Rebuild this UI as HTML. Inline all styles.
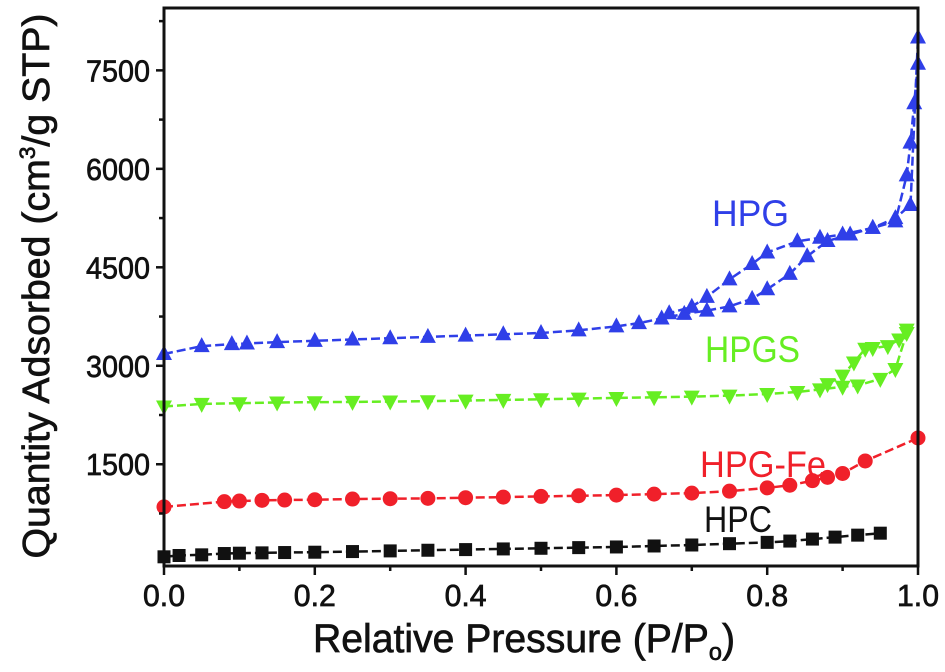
<!DOCTYPE html>
<html><head><meta charset="utf-8"><style>
html,body{margin:0;padding:0;background:#fff;}
svg{display:block;font-family:"Liberation Sans",Arial,sans-serif;}
.t{stroke:#111;stroke-width:0.7;}
</style></head><body>
<div style="position:relative;width:945px;height:672px;">
<svg id="chart" width="945" height="672" viewBox="0 0 945 672" style="position:absolute;left:0;top:0">
<g id="marks"></g>
<g id="axes"></g>
</svg>
<svg style="position:absolute;left:0;top:0" width="945" height="672">
<text x="313" y="652" font-size="40" fill="#111" class="t" textLength="422" lengthAdjust="spacingAndGlyphs">Relative Pressure (P/P<tspan font-size="24" dy="8">o</tspan><tspan dy="-8">)</tspan></text>
<text transform="translate(49,286) rotate(-90)" text-anchor="middle" font-size="38" fill="#111" class="t" textLength="545" lengthAdjust="spacingAndGlyphs">Quantity Adsorbed (cm<tspan font-size="22" dy="-14">3</tspan><tspan dy="14">/g  STP)</tspan></text>
<text x="712" y="226" font-size="37" fill="#2f3fe8" textLength="77" lengthAdjust="spacingAndGlyphs">HPG</text>
<text x="705" y="362" font-size="37" fill="#66ee22" textLength="95" lengthAdjust="spacingAndGlyphs">HPGS</text>
<text x="700" y="477" font-size="37" fill="#f0202a" textLength="126" lengthAdjust="spacingAndGlyphs">HPG-Fe</text>
<text x="704" y="532" font-size="37" fill="#111" textLength="68" lengthAdjust="spacingAndGlyphs">HPC</text>
</svg>
</div>
<script>
const xTicks=[0,0.2,0.4,0.6,0.8,1.0];
const xTickLabels=["0.0","0.2","0.4","0.6","0.8","1.0"];
const yTicks=[1500,3000,4500,6000,7500];
const yTickLabels=["1500","3000","4500","6000","7500"];

const hpgAdsX=[0,0.05,0.09,0.11,0.15,0.2,0.25,0.3,0.35,0.4,0.45,0.5,0.55,0.6,0.63,0.66,0.69,0.72,0.75,0.78,0.8,0.83,0.853,0.88,0.91,0.94,0.97,0.99,1.0];
const hpgAdsY=[3180,3300,3330,3340,3360,3380,3400,3420,3440,3460,3480,3500,3540,3600,3650,3720,3790,3840,3905,4020,4165,4400,4668,4900,5000,5100,5250,5450,8000];
const hpgDesX=[1.0,0.995,0.99,0.985,0.97,0.94,0.9,0.87,0.84,0.8,0.78,0.75,0.72,0.7,0.67];
const hpgDesY=[7600,7000,6400,5900,5200,5100,5000,4950,4896,4725,4550,4316,4050,3900,3800];

const hpgsAdsX=[0,0.05,0.1,0.15,0.2,0.25,0.3,0.35,0.4,0.45,0.5,0.55,0.6,0.65,0.7,0.75,0.8,0.84,0.87,0.9,0.92,0.95,0.97,0.985];
const hpgsAdsY=[2380,2420,2430,2440,2445,2450,2455,2460,2470,2480,2490,2500,2510,2520,2530,2545,2570,2600,2640,2680,2700,2800,2950,3500];
const hpgsDesX=[0.985,0.975,0.96,0.94,0.93,0.915,0.9,0.88];
const hpgsDesY=[3550,3400,3300,3270,3260,3050,2850,2720];

const hpgFeX=[0,0.08,0.1,0.13,0.16,0.2,0.25,0.3,0.35,0.4,0.45,0.5,0.55,0.6,0.65,0.7,0.75,0.8,0.83,0.86,0.88,0.9,0.93,1.0];
const hpgFeY=[850,930,940,950,955,960,970,975,980,990,1000,1010,1020,1030,1045,1060,1090,1140,1180,1250,1300,1360,1550,1900];

const hpcX=[0,0.02,0.05,0.08,0.1,0.13,0.16,0.2,0.25,0.3,0.35,0.4,0.45,0.5,0.55,0.6,0.65,0.7,0.75,0.8,0.83,0.86,0.89,0.92,0.95];
const hpcY=[90,110,120,140,145,150,155,160,170,180,190,200,210,220,230,240,255,270,290,310,330,360,390,420,450];

const X0=164,X1=918,Y0=566,Y1=8;
const YMIN=-50,YMAX=8450;
function sx(v){return X0+(v-0)/(1-0)*(X1-X0);}
function sy(v){return Y0-(v-YMIN)/(YMAX-YMIN)*(Y0-Y1);}
const NS="http://www.w3.org/2000/svg";
const marks=document.getElementById('marks');
const axes=document.getElementById('axes');
function mk(tag,attrs,parent){const e=document.createElementNS(NS,tag);for(const k in attrs)e.setAttribute(k,attrs[k]);parent.appendChild(e);return e;}

function series(xs,ys,color,shape,name){
  const g=mk('g',{},marks);
  
  
  const pts=xs.map((x,i)=>sx(x).toFixed(1)+','+sy(ys[i]).toFixed(1)).join(' ');
  const pl=mk('polyline',{points:pts,fill:'none',stroke:color,'stroke-width':2.5,'stroke-dasharray':'9,4'},g);
  
  
  xs.forEach((x,i)=>{
    const cx=sx(x),cy=sy(ys[i]);let m;
    if(shape==='circle')m=mk('circle',{cx:cx,cy:cy,r:7.5,fill:color},g);
    else if(shape==='square')m=mk('rect',{x:cx-6.5,y:cy-6.5,width:13,height:13,fill:color},g);
    else if(shape==='up')m=mk('polygon',{points:`${cx},${cy-9} ${cx-8},${cy+6} ${cx+8},${cy+6}`,fill:color},g);
    else m=mk('polygon',{points:`${cx},${cy+9} ${cx-8},${cy-6} ${cx+8},${cy-6}`,fill:color},g);
    
    
  });
}
series(hpcX,hpcY,'#111','square','hpc-series');
series(hpgFeX,hpgFeY,'#f0202a','circle','hpg-fe-series');
series(hpgsAdsX,hpgsAdsY,'#66ee22','down','hpgs-adsorption');
series(hpgsDesX,hpgsDesY,'#66ee22','down','hpgs-desorption');
series(hpgAdsX,hpgAdsY,'#2f3fe8','up','hpg-adsorption');
series(hpgDesX,hpgDesY,'#2f3fe8','up','hpg-desorption');

const frame=mk('rect',{x:X0,y:Y1,width:X1-X0,height:Y0-Y1,fill:'none',stroke:'#111','stroke-width':3},axes);


for(let v=0;v<=1.0001;v+=0.1){
  const major=Math.abs(v*5-Math.round(v*5))<1e-6;
  const t=mk('line',{x1:sx(v),x2:sx(v),y1:Y0,y2:Y0+(major?9:5),stroke:'#111','stroke-width':2.5},axes);
  
  
}
xTicks.forEach((v,i)=>{
  const t=mk('text',{x:sx(v),y:606,'text-anchor':'middle','font-size':31,fill:'#111',class:'t',textLength:42,lengthAdjust:'spacingAndGlyphs'},axes);
  t.textContent=xTickLabels[i];
  
  
});
for(let v=750;v<YMAX;v+=750){
  const major=v%1500===0;
  const t=mk('line',{x1:X0,x2:X0-(major?8:5),y1:sy(v),y2:sy(v),stroke:'#111','stroke-width':2.5},axes);
  
  
}
yTicks.forEach((v,i)=>{
  const t=mk('text',{x:150,y:sy(v)+11,'text-anchor':'end','font-size':31,fill:'#111',class:'t',textLength:64,lengthAdjust:'spacingAndGlyphs'},axes);
  t.textContent=yTickLabels[i];
  
  
});
</script>
</body></html>
